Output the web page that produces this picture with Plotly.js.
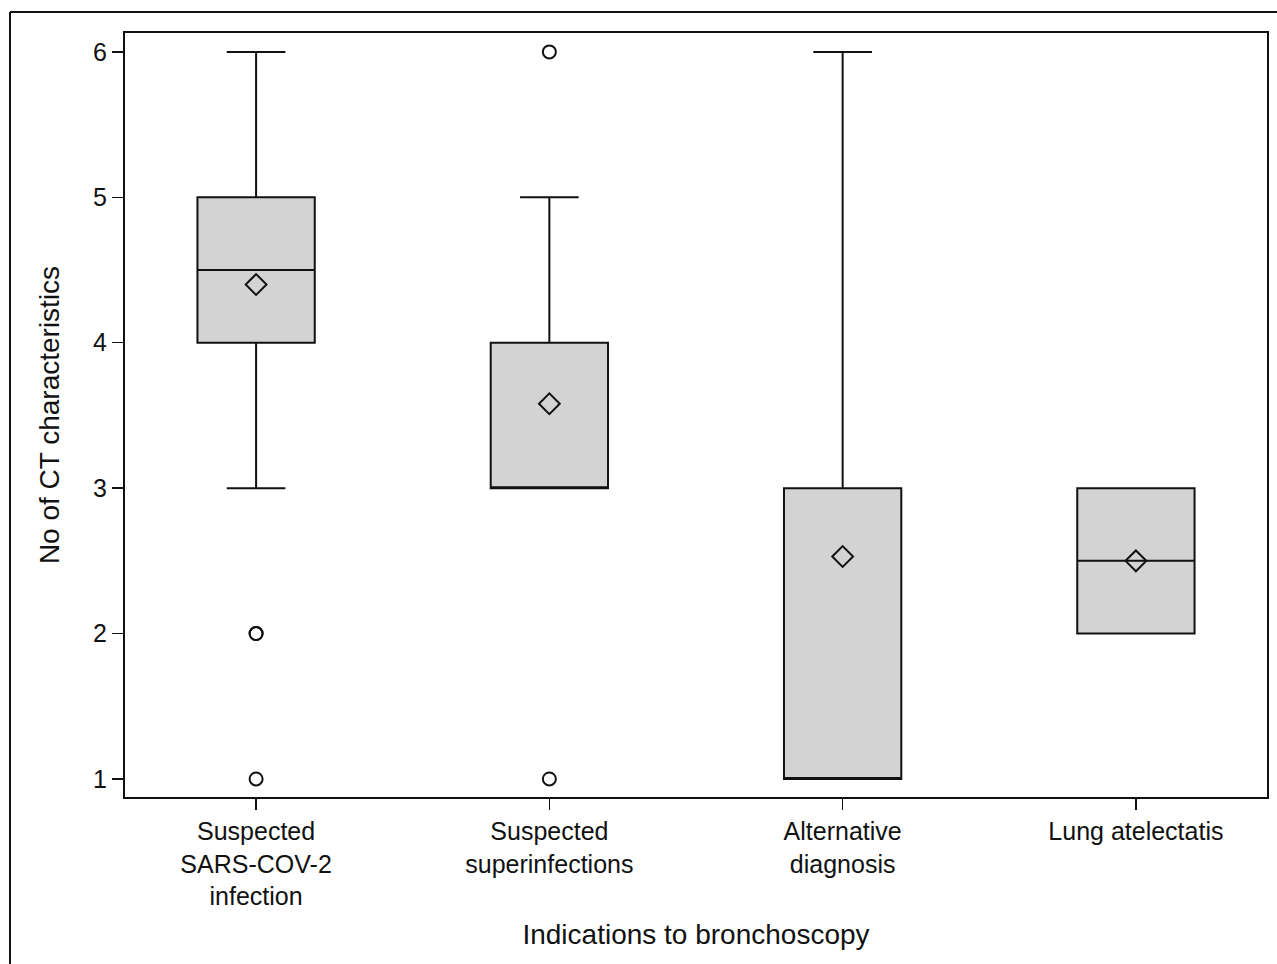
<!DOCTYPE html>
<html>
<head>
<meta charset="utf-8">
<script src="https://cdn.plot.ly/plotly-3.0.1.min.js"></script>
<style>
html,body{margin:0;padding:0;background:#fff;}
#chart{width:1277px;height:964px;}
</style>
</head>
<body>
<div id="chart"></div>
<script>
// Data
var categories = ["Suspected<br>SARS-COV-2<br>infection", "Suspected<br>superinfections", "Alternative<br>diagnosis", "Lung atelectatis"];
var q1Values = [4, 3, 1, 2];
var medianValues = [4.5, 3, 1, 2.5];
var q3Values = [5, 4, 3, 3];
var lowerWhisker = [3, 3, 1, 2];
var upperWhisker = [6, 5, 6, 3];
var meanValues = [4.4, 3.58, 2.53, 2.5];
var outlierCategory = [0, 0, 0, 1, 1];
var outlierValues = [2, 2, 1, 6, 1];
var yTickValues = [1, 2, 3, 4, 5, 6];

var idx = categories.map(function(_, i){ return i; });

var boxTrace = {
  type: "box",
  x: idx,
  q1: q1Values,
  median: medianValues,
  q3: q3Values,
  lowerfence: lowerWhisker,
  upperfence: upperWhisker,
  boxpoints: false,
  width: 0.4,
  whiskerwidth: 0.5,
  fillcolor: "#d3d3d3",
  line: {color: "#111", width: 2},
  hoverinfo: "skip",
  showlegend: false
};

var meanTrace = {
  type: "scatter",
  mode: "markers",
  x: idx,
  y: meanValues,
  marker: {symbol: "diamond-open", size: 16, color: "#111", line: {width: 2, color: "#111"}},
  showlegend: false,
  cliponaxis: false
};

var outlierTrace = {
  type: "scatter",
  mode: "markers",
  x: outlierCategory,
  y: outlierValues,
  marker: {symbol: "circle-open", size: 13, color: "#111", line: {width: 2, color: "#111"}},
  showlegend: false,
  cliponaxis: false
};

var fontFamily = "Liberation Sans, Arial, sans-serif";

var layout = {
  width: 1277,
  height: 964,
  margin: {l: 125, r: 10, t: 33, b: 167},
  paper_bgcolor: "#fff",
  plot_bgcolor: "#fff",
  font: {family: fontFamily, color: "#111", size: 25},
  xaxis: {
    range: [-0.447, 3.447],
    tickmode: "array",
    tickvals: idx,
    ticktext: categories,
    ticks: "outside",
    ticklen: 11,
    tickwidth: 1.5,
    tickcolor: "#111",
    showline: true,
    mirror: true,
    linecolor: "#111",
    linewidth: 2,
    showgrid: false,
    zeroline: false,
    tickfont: {size: 25, family: fontFamily, color: "#111"},
    title: {text: "Indications to bronchoscopy", font: {size: 28, family: fontFamily, color: "#111"}, standoff: 15},
    automargin: false
  },
  yaxis: {
    range: [0.876, 6.13],
    tickmode: "array",
    tickvals: yTickValues,
    ticks: "outside",
    ticklen: 11,
    tickwidth: 1.5,
    tickcolor: "#111",
    showline: true,
    mirror: true,
    linecolor: "#111",
    linewidth: 2,
    showgrid: false,
    zeroline: false,
    tickfont: {size: 25, family: fontFamily, color: "#111"},
    title: {text: "No of CT characteristics", font: {size: 28, family: fontFamily, color: "#111"}, standoff: 25},
    automargin: false
  },
  shapes: [
    {type: "line", xref: "paper", yref: "paper", x0: -0.1007, x1: -0.1007, y0: 1.0275, y1: -0.22, line: {color: "#111", width: 2}},
    {type: "line", xref: "paper", yref: "paper", x0: -0.1007, x1: 1.01, y0: 1.0275, y1: 1.0275, line: {color: "#111", width: 2}}
  ]
};

Plotly.newPlot("chart", [boxTrace, meanTrace, outlierTrace], layout, {staticPlot: true, displayModeBar: false});
</script>
</body>
</html>
